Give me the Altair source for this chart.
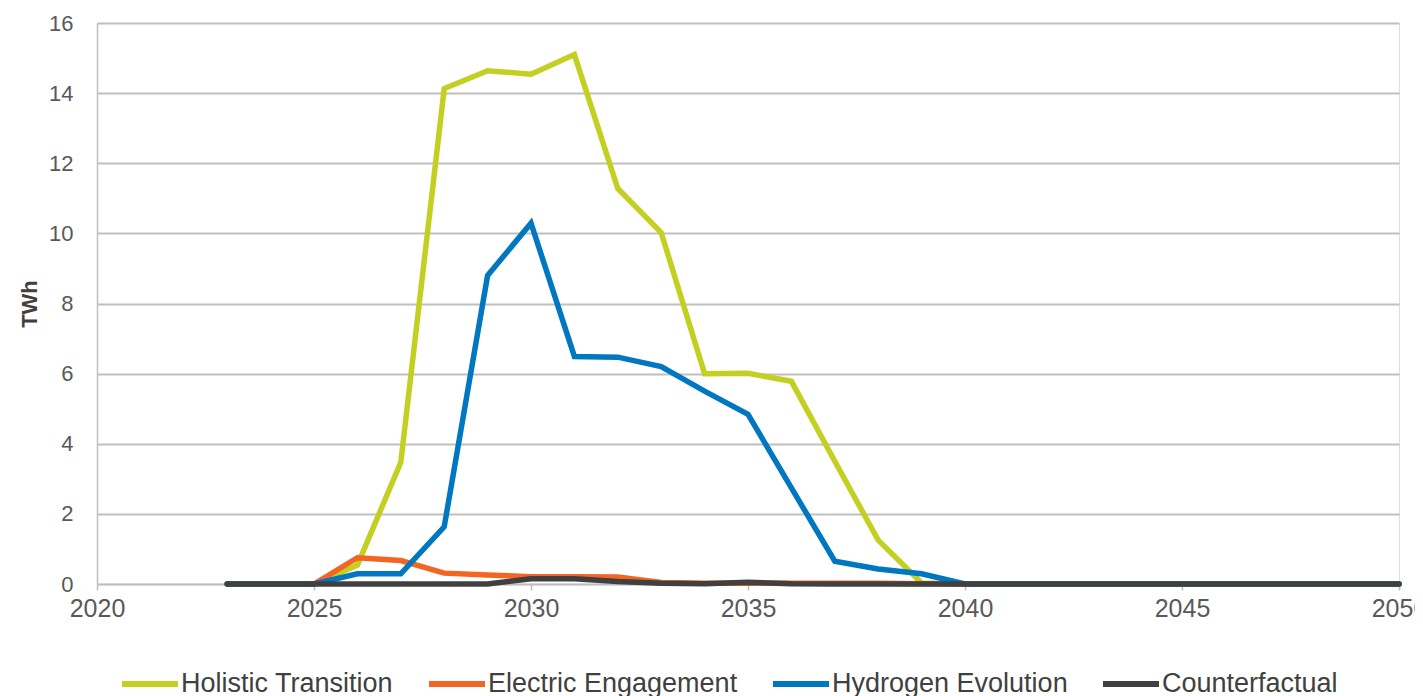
import altair as alt
import pandas as pd

years = list(range(2023, 2051))
series_names = ["Holistic Transition", "Electric Engagement", "Hydrogen Evolution", "Counterfactual"]
series_colors = ["#c3cf21", "#f26522", "#0077c0", "#404040"]

holistic = [0, 0, 0, 0.54, 3.47, 14.13, 14.64, 14.54, 15.1, 11.28, 10.02, 6.0, 6.01, 5.78,
            3.5, 1.25, 0.03, 0, 0, 0, 0, 0, 0, 0, 0, 0, 0, 0]
electric = [0, 0, 0, 0.75, 0.67, 0.31, 0.26, 0.21, 0.21, 0.2, 0.04, 0.02, 0.02, 0.02,
            0.02, 0.02, 0.01, 0, 0, 0, 0, 0, 0, 0, 0, 0, 0, 0]
hydrogen = [0, 0, 0, 0.29, 0.29, 1.63, 8.8, 10.29, 6.49, 6.47, 6.2, 5.5, 4.84, 2.74,
            0.65, 0.43, 0.29, 0, 0, 0, 0, 0, 0, 0, 0, 0, 0, 0]
counterfactual = [0, 0, 0, 0, 0, 0, 0, 0.15, 0.15, 0.07, 0.02, 0.01, 0.05, 0.01,
                  0, 0, 0, 0, 0, 0, 0, 0, 0, 0, 0, 0, 0, 0]

x_ticks = [2020, 2025, 2030, 2035, 2040, 2045, 2050]
y_ticks = [0, 2, 4, 6, 8, 10, 12, 14, 16]

rows = []
for order, (name, vals) in enumerate(zip(series_names, [holistic, electric, hydrogen, counterfactual])):
    for y, v in zip(years, vals):
        rows.append({"Year": y, "TWh": v, "Scenario": name, "ord": order})
df = pd.DataFrame(rows)

chart = alt.Chart(df).mark_line(strokeWidth=5.5, strokeCap="round", strokeJoin="miter").encode(
    x=alt.X("Year:Q",
            scale=alt.Scale(domain=[2020, 2050], nice=False, zero=False),
            axis=alt.Axis(values=x_ticks, format="d", title=None, grid=False, labelFlush=False,
                          labelFontSize=25, labelColor="#595959", labelFont="Liberation Sans",
                          tickSize=6, tickColor="#bfbfbf", tickWidth=1.5,
                          domainColor="#bfbfbf", domainWidth=1.5, labelPadding=6)),
    y=alt.Y("TWh:Q",
            scale=alt.Scale(domain=[0, 16], nice=False),
            axis=alt.Axis(values=y_ticks, title="TWh", grid=True, gridColor="#bfbfbf", gridWidth=2,
                          ticks=False, labelFontSize=22, labelColor="#595959", labelFont="Liberation Sans",
                          labelPadding=24, domainColor="#bfbfbf", domainWidth=1.5,
                          titleFontSize=22, titleFont="Liberation Sans", titleFontWeight="bold",
                          titleColor="#404040", titlePadding=7)),
    color=alt.Color("Scenario:N",
                    scale=alt.Scale(domain=series_names, range=series_colors),
                    legend=alt.Legend(title=None, orient="none", direction="horizontal",
                                      legendX=22, legendY=630, symbolType="stroke",
                                      symbolSize=3136, symbolStrokeWidth=6,
                                      labelFontSize=27, labelFont="Liberation Sans",
                                      labelColor="#404040", labelOffset=0, columnPadding=23,
                                      padding=0, labelLimit=400)),
    order=alt.Order("ord:Q"),
    detail="Scenario:N",
).properties(
    width=1302, height=561,
    autosize=alt.AutoSizeParams(type="none"),
    padding={"left": 89, "top": 15, "right": 16, "bottom": 113},
).configure_view(stroke=None).configure(background="white")

chart.save("out.html", embed_options={"renderer": "svg", "actions": False})
